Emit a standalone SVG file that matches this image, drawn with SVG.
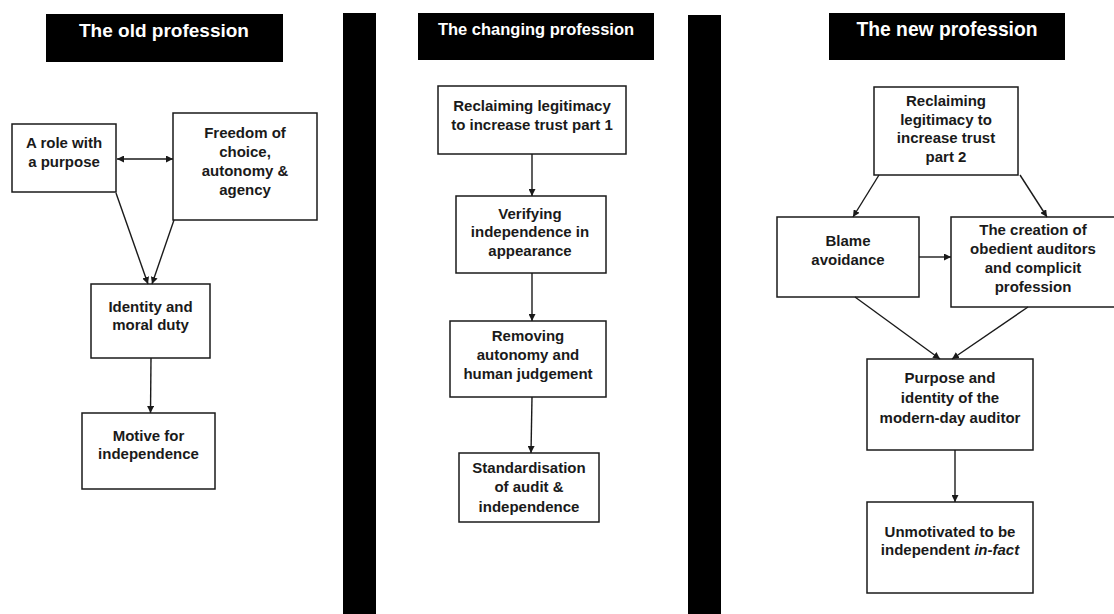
<svg xmlns="http://www.w3.org/2000/svg" width="1114" height="614" viewBox="0 0 1114 614">
  <style>
    .box { fill: #ffffff; stroke: #1a1a1a; stroke-width: 1.5; }
    .bar { fill: #000000; }
    .title-bg { fill: #000000; }
    .title { font-family: "Liberation Sans", Arial, sans-serif; font-weight: bold; fill: #ffffff; text-anchor: middle; }
    .label { font-family: "Liberation Sans", Arial, sans-serif; font-weight: bold; font-size: 15px; fill: #1a1a1a; text-anchor: middle; }
    .edge { stroke: #1a1a1a; stroke-width: 1.4; fill: none; marker-end: url(#arrow); }
  </style>
  <defs>
    <marker id="arrow" viewBox="0 0 10 10" refX="10" refY="5" markerWidth="7" markerHeight="7" markerUnits="userSpaceOnUse" orient="auto-start-reverse">
      <path d="M0,0 L10,5 L0,10 z" fill="#1a1a1a"/>
    </marker>
  </defs>

  <rect width="1114" height="614" fill="#ffffff"/>

  <!-- column dividers -->
  <rect class="bar" x="343" y="13" width="33" height="601"/>
  <rect class="bar" x="688" y="15" width="33" height="599"/>

  <!-- column headings -->
  <g id="title-old">
    <rect class="title-bg" x="46" y="14" width="237" height="48"/>
    <text class="title" x="164" y="37" font-size="19">The old profession</text>
  </g>
  <g id="title-changing">
    <rect class="title-bg" x="418" y="13" width="236" height="47"/>
    <text class="title" x="536" y="35" font-size="16.5">The changing profession</text>
  </g>
  <g id="title-new">
    <rect class="title-bg" x="829" y="13" width="236" height="47"/>
    <text class="title" x="947" y="36" font-size="19.3">The new profession</text>
  </g>

  <!-- old profession -->
  <g id="role">
    <rect class="box" x="12" y="124" width="104" height="68"/>
    <text class="label" x="64" y="148">A role with</text>
    <text class="label" x="64" y="166.5">a purpose</text>
  </g>
  <g id="freedom">
    <rect class="box" x="173" y="113" width="144" height="107"/>
    <text class="label" x="245" y="138">Freedom of</text>
    <text class="label" x="245" y="157">choice,</text>
    <text class="label" x="245" y="176">autonomy &amp;</text>
    <text class="label" x="245" y="195">agency</text>
  </g>
  <g id="identity">
    <rect class="box" x="91" y="284" width="119" height="74"/>
    <text class="label" x="150.5" y="312">Identity and</text>
    <text class="label" x="150.5" y="330">moral duty</text>
  </g>
  <g id="motive">
    <rect class="box" x="82" y="413" width="133" height="76"/>
    <text class="label" x="148.5" y="441">Motive for</text>
    <text class="label" x="148.5" y="459">independence</text>
  </g>

  <!-- changing profession -->
  <g id="reclaim1">
    <rect class="box" x="438" y="86" width="188" height="68"/>
    <text class="label" x="532" y="111">Reclaiming legitimacy</text>
    <text class="label" x="532" y="130">to increase trust part 1</text>
  </g>
  <g id="verifying">
    <rect class="box" x="456" y="196" width="150" height="77"/>
    <text class="label" x="530" y="218.5">Verifying</text>
    <text class="label" x="530" y="237">independence in</text>
    <text class="label" x="530" y="255.5">appearance</text>
  </g>
  <g id="removing">
    <rect class="box" x="450" y="321" width="156" height="76"/>
    <text class="label" x="528" y="341">Removing</text>
    <text class="label" x="528" y="360">autonomy and</text>
    <text class="label" x="528" y="379">human judgement</text>
  </g>
  <g id="standardisation">
    <rect class="box" x="459" y="453" width="140" height="69"/>
    <text class="label" x="529" y="473">Standardisation</text>
    <text class="label" x="529" y="492">of audit &amp;</text>
    <text class="label" x="529" y="511.5">independence</text>
  </g>

  <!-- new profession -->
  <g id="reclaim2">
    <rect class="box" x="874" y="87" width="144" height="88"/>
    <text class="label" x="946" y="106">Reclaiming</text>
    <text class="label" x="946" y="124.5">legitimacy to</text>
    <text class="label" x="946" y="143">increase trust</text>
    <text class="label" x="946" y="162">part 2</text>
  </g>
  <g id="blame">
    <rect class="box" x="777" y="217" width="142" height="80"/>
    <text class="label" x="848" y="246">Blame</text>
    <text class="label" x="848" y="265">avoidance</text>
  </g>
  <g id="creation">
    <rect class="box" x="951" y="217" width="170" height="90"/>
    <text class="label" x="1033" y="235">The creation of</text>
    <text class="label" x="1033" y="254">obedient auditors</text>
    <text class="label" x="1033" y="273">and complicit</text>
    <text class="label" x="1033" y="292">profession</text>
  </g>
  <g id="purpose">
    <rect class="box" x="867" y="359" width="166" height="91"/>
    <text class="label" x="950" y="383">Purpose and</text>
    <text class="label" x="950" y="403">identity of the</text>
    <text class="label" x="950" y="423">modern-day auditor</text>
  </g>
  <g id="unmotivated">
    <rect class="box" x="867" y="502" width="166" height="91"/>
    <text class="label" x="950" y="537">Unmotivated to be</text>
    <text class="label" x="950" y="555">independent <tspan font-style="italic">in-fact</tspan></text>
  </g>

  <!-- connectors -->
  <g id="connectors">
    <line class="edge" x1="117" y1="159" x2="173" y2="159" style="marker-start: url(#arrow)"/>
    <line class="edge" x1="116" y1="193" x2="148" y2="284"/>
    <line class="edge" x1="174" y1="220" x2="152" y2="284"/>
    <line class="edge" x1="151" y1="358" x2="150.5" y2="413"/>

    <line class="edge" x1="532" y1="154" x2="532" y2="196"/>
    <line class="edge" x1="532" y1="273" x2="532" y2="321"/>
    <line class="edge" x1="532" y1="397" x2="531" y2="453"/>

    <line class="edge" x1="879" y1="175" x2="853" y2="217"/>
    <line class="edge" x1="1020" y1="175" x2="1047" y2="217"/>
    <line class="edge" x1="919" y1="257" x2="951" y2="257"/>
    <line class="edge" x1="855" y1="297" x2="940" y2="359"/>
    <line class="edge" x1="1028" y1="307" x2="952" y2="359"/>
    <line class="edge" x1="955" y1="450" x2="955" y2="502"/>
  </g>
</svg>
